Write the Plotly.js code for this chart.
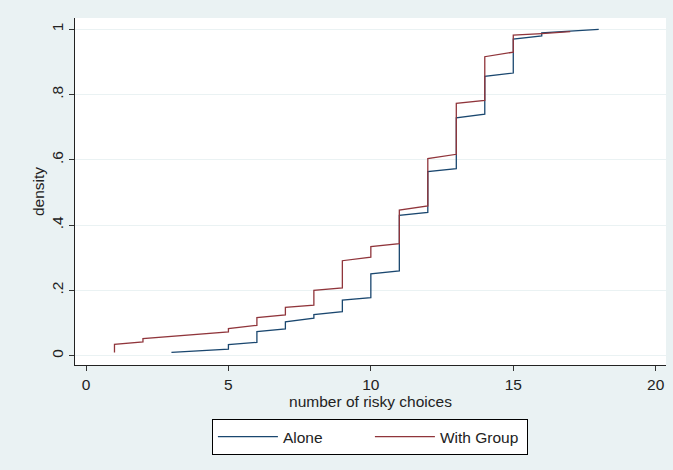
<!DOCTYPE html>
<html>
<head>
<meta charset="utf-8">
<script src="https://cdn.plot.ly/plotly-3.0.1.min.js"></script>
<style>
  html, body { margin: 0; padding: 0; background: #eaf2f3; }
  #chart { width: 673px; height: 470px; }
</style>
</head>
<body>
<div id="chart"></div>
<script>
// Data (cumulative distribution, stepped)
const aloneX = [3, 5, 5, 6, 6, 7, 7, 8, 8, 9, 9, 10, 10, 11, 11, 12, 12, 13, 13, 14, 14, 15, 15, 16, 16, 17, 17, 18];
const aloneY = [0.010, 0.020, 0.034, 0.041, 0.074, 0.082, 0.104, 0.115, 0.126, 0.135, 0.170, 0.178, 0.251, 0.260, 0.430, 0.439, 0.564, 0.573, 0.729, 0.740, 0.856, 0.866, 0.970, 0.980, 0.989, 0.994, 0.996, 1.000];

const groupX = [1, 1, 2, 2, 5, 5, 6, 6, 7, 7, 8, 8, 9, 9, 10, 10, 11, 11, 12, 12, 13, 13, 14, 14, 15, 15, 16, 17];
const groupY = [0.010, 0.035, 0.042, 0.052, 0.073, 0.083, 0.093, 0.117, 0.125, 0.148, 0.155, 0.200, 0.208, 0.291, 0.302, 0.334, 0.343, 0.446, 0.459, 0.604, 0.617, 0.773, 0.782, 0.916, 0.930, 0.982, 0.987, 0.993];

const xTickVals = [0, 5, 10, 15, 20];
const xTickText = ["0", "5", "10", "15", "20"];
const yTickVals = [0, 0.2, 0.4, 0.6, 0.8, 1];
const yTickText = ["0", ".2", ".4", ".6", ".8", "1"];

const FONT = "'Liberation Sans', Arial, Helvetica, sans-serif";
const FS = 15.5;

const traces = [
  { x: aloneX, y: aloneY, type: "scatter", mode: "lines", name: "Alone",
    line: { color: "#1a476f", width: 1.3 } },
  { x: groupX, y: groupY, type: "scatter", mode: "lines", name: "With Group",
    line: { color: "#90353b", width: 1.3 } }
];

const layout = {
  width: 673, height: 470,
  paper_bgcolor: "#eaf2f3",
  plot_bgcolor: "#ffffff",
  margin: { l: 75, r: 7, t: 18, b: 105 },
  font: { family: FONT, size: FS, color: "#222" },
  showlegend: true,
  xaxis: {
    range: [-0.386, 20.362],
    tickvals: xTickVals, ticktext: xTickText,
    ticks: "outside", ticklen: 5, tickcolor: "#333", tickwidth: 1,
    showline: true, linecolor: "#222", linewidth: 1.2,
    showgrid: false, zeroline: false,
    tickfont: { family: FONT, size: FS, color: "#222" },
    title: { text: "number of risky choices", standoff: 2, font: { family: FONT, size: FS, color: "#222" } }
  },
  yaxis: {
    range: [-0.0285, 1.0346],
    tickvals: yTickVals, ticktext: yTickText,
    tickangle: -90,
    ticks: "outside", ticklen: 5, tickcolor: "#333", tickwidth: 1,
    showline: true, linecolor: "#222", linewidth: 1.2,
    showgrid: true, gridcolor: "#eaf2f3", gridwidth: 1,
    zeroline: false,
    tickfont: { family: FONT, size: FS, color: "#222" },
    title: { text: "density", standoff: 0, font: { family: FONT, size: FS, color: "#222" } }
  },
  legend: {
    orientation: "h",
    x: 0.499, xanchor: "center",
    y: -0.156, yanchor: "top",
    bgcolor: "#ffffff", bordercolor: "#000000", borderwidth: 1,
    itemwidth: 60,
    entrywidth: 82, entrywidthmode: "pixels",
    font: { family: FONT, size: FS, color: "#222" }
  }
};

Plotly.newPlot("chart", traces, layout, { displayModeBar: false, staticPlot: true });
</script>
</body>
</html>
